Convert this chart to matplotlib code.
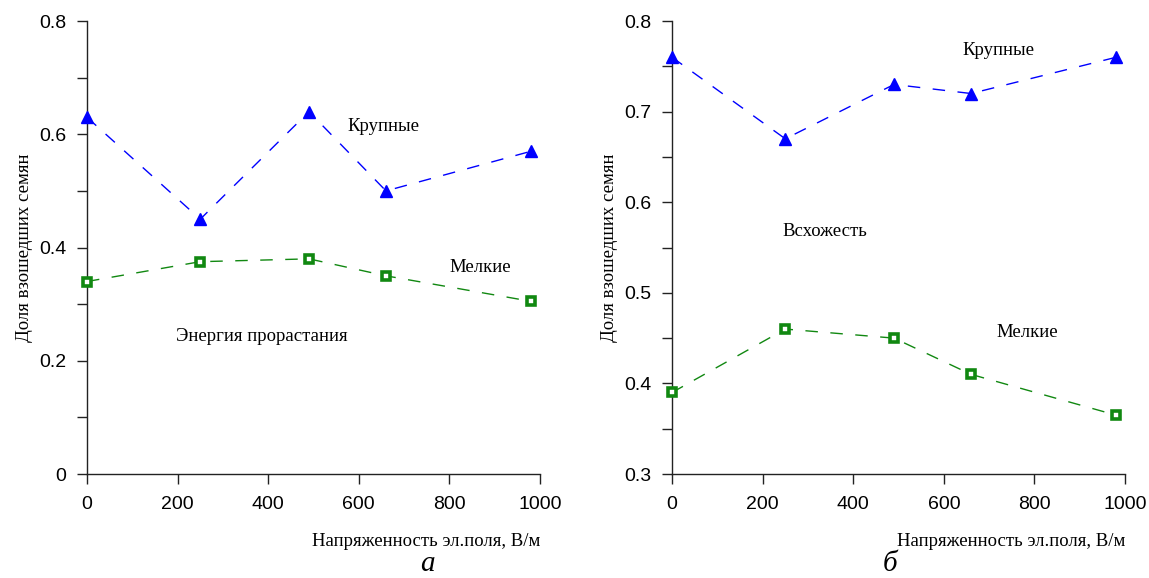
import matplotlib
matplotlib.use("Agg")
import matplotlib.pyplot as plt
from matplotlib.ticker import MultipleLocator, FuncFormatter

# Field strength, V/m
field = [0, 250, 490, 660, 980]

# Panel a: germination energy
energy_large = [0.63, 0.45, 0.64, 0.50, 0.57]
energy_small = [0.34, 0.375, 0.38, 0.35, 0.305]

# Panel b: germination rate
germ_large = [0.76, 0.67, 0.73, 0.72, 0.76]
germ_small = [0.39, 0.46, 0.45, 0.41, 0.365]

xticks = [0, 200, 400, 600, 800, 1000]

SERIF = "Liberation Serif"
SANS = "Liberation Sans"

fig = plt.figure(figsize=(11.49, 5.78), dpi=100)
ax1 = fig.add_axes([0.0757, 0.1799, 0.3943, 0.7837])
ax2 = fig.add_axes([0.5849, 0.1799, 0.3943, 0.7837])


def fmt_y(v, _pos):
    s = f"{v:.1f}"
    return "0" if s == "0.0" else s


def style_axes(ax, ylim, major, label_step):
    ax.set_xlim(0, 1000)
    ax.set_ylim(*ylim)
    for side in ("top", "right"):
        ax.spines[side].set_visible(False)
    for side in ("left", "bottom"):
        ax.spines[side].set_linewidth(1.0)
        ax.spines[side].set_color("#222222")
    ax.set_xticks(xticks)
    ax.yaxis.set_major_locator(MultipleLocator(label_step))
    ax.yaxis.set_minor_locator(MultipleLocator(major))
    ax.yaxis.set_major_formatter(FuncFormatter(fmt_y))
    ax.tick_params(axis="both", which="both", direction="out", length=7,
                   width=1.0, color="#222222")
    ax.tick_params(axis="x", pad=9)
    ax.tick_params(axis="y", pad=8)
    for lab in ax.get_xticklabels() + ax.get_yticklabels():
        lab.set_fontfamily(SANS)
        lab.set_fontsize(14)
    ax.set_ylabel("Доля взошедших семян", fontfamily=SERIF, fontsize=13.5,
                  labelpad=4)
    ax.set_xlabel("Напряженность эл.поля, В/м", fontfamily=SERIF,
                  fontsize=13.5, loc="right", labelpad=14)


def draw_series(ax, large, small):
    ax.plot(field, large, color="#0000ff", lw=1.0, dashes=(9, 9),
            marker="^", markersize=8.5, markerfacecolor="#0000ff",
            markeredgecolor="#0000ff", clip_on=False, zorder=3)
    ax.plot(field, small, color="#118811", lw=1.0, dashes=(9, 9),
            marker="s", markersize=5.5, markerfacecolor="white",
            markeredgecolor="#118811", markeredgewidth=2.6,
            clip_on=False, zorder=3)


draw_series(ax1, energy_large, energy_small)
style_axes(ax1, (0, 0.8), 0.1, 0.2)
ax1.text(574, 0.613, "Крупные", fontfamily=SERIF, fontsize=13.5, va="center")
ax1.text(799, 0.364, "Мелкие", fontfamily=SERIF, fontsize=13.5, va="center")
ax1.text(196, 0.242, "Энергия прорастания", fontfamily=SERIF, fontsize=13.5,
         va="center")

draw_series(ax2, germ_large, germ_small)
style_axes(ax2, (0.3, 0.8), 0.05, 0.1)
ax2.text(642, 0.768, "Крупные", fontfamily=SERIF, fontsize=13.5, va="center")
ax2.text(243, 0.568, "Всхожесть", fontfamily=SERIF, fontsize=13.5,
         va="center")
ax2.text(717, 0.456, "Мелкие", fontfamily=SERIF, fontsize=13.5, va="center")

fig.text(427 / 1149, 1 - 564 / 578, "а", fontfamily=SERIF, fontsize=21,
         style="italic", ha="center", va="center")
fig.text(890 / 1149, 1 - 564 / 578, "б", fontfamily=SERIF, fontsize=21,
         style="italic", ha="center", va="center")

fig.savefig("out.png", dpi=100, facecolor="white")
